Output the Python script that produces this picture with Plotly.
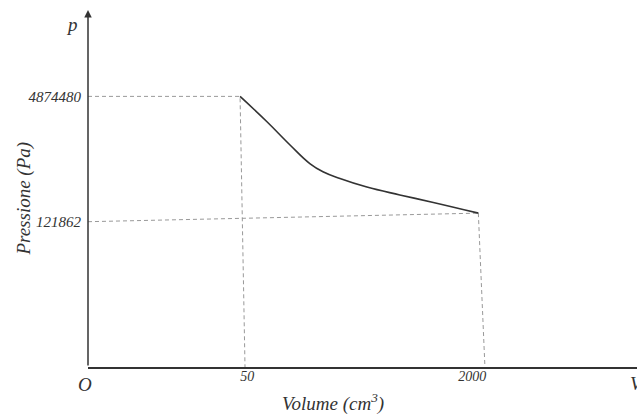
import plotly.graph_objects as go

# Schematic diagram coordinates (axis units 0..10 in both directions)
volume_ticks = ["50", "2000"]
volume_pos = [2.90, 7.00]
pressure_ticks = ["4874480", "121862"]
pressure_pos = [7.58, 4.07]

# Isothermal curve (schematic units)
curve_x = [2.77, 3.26, 3.68, 4.04, 4.28, 4.59, 5.08, 5.68, 6.29, 7.11]
curve_y = [7.58, 6.87, 6.22, 5.70, 5.47, 5.28, 5.04, 4.82, 4.61, 4.31]

# feet of the vertical guide lines on the volume axis
guide_foot_x = [2.86, 7.23]

serif = "Liberation Serif"
dash_col = "#999999"
ink = "#333333"
dash = "4px,3px"

fig = go.Figure()

# dashed guide lines
fig.add_trace(go.Scatter(x=[0, curve_x[0], guide_foot_x[0]], y=[curve_y[0], curve_y[0], 0],
                         mode="lines", line=dict(color=dash_col, width=1, dash=dash),
                         hoverinfo="skip", showlegend=False))
fig.add_trace(go.Scatter(x=[0, curve_x[-1]], y=[pressure_pos[1], curve_y[-1]],
                         mode="lines", line=dict(color=dash_col, width=1, dash=dash),
                         hoverinfo="skip", showlegend=False))
fig.add_trace(go.Scatter(x=[curve_x[-1], guide_foot_x[1]], y=[curve_y[-1], 0],
                         mode="lines", line=dict(color=dash_col, width=1, dash=dash),
                         hoverinfo="skip", showlegend=False))

# curve
fig.add_trace(go.Scatter(x=curve_x, y=curve_y, mode="lines",
                         line=dict(color=ink, width=1.6, shape="spline", smoothing=1.2),
                         showlegend=False))

fig.update_layout(
    width=637, height=415,
    margin=dict(l=88, r=0, t=10, b=48),
    plot_bgcolor="white", paper_bgcolor="white",
    showlegend=False,
    xaxis=dict(range=[0, 10], showgrid=False, zeroline=False, showline=True, linecolor=ink, linewidth=1.5,
               tickvals=volume_pos, ticktext=volume_ticks, ticks="", ticklabelstandoff=-5,
               tickfont=dict(family=serif, size=14, color=ink, style="italic")),
    yaxis=dict(range=[0, 10], showgrid=False, zeroline=False, showline=False,
               tickvals=pressure_pos, ticktext=pressure_ticks, ticks="", ticklabelstandoff=6,
               tickfont=dict(family=serif, size=15, color=ink, style="italic")),
)

# y axis with arrow
fig.add_annotation(x=0, y=1, xref="x domain", yref="y domain", ax=0, ay=357, axref="pixel", ayref="pixel",
                   showarrow=True, arrowhead=2, arrowsize=1, arrowwidth=1.5, arrowcolor=ink, text="")

fig.add_annotation(x=-0.029, y=0.958, xref="paper", yref="paper", text="p", showarrow=False,
                   font=dict(family=serif, size=19, color=ink, style="italic"), xanchor="center", yanchor="middle")
fig.add_annotation(x=-0.005, y=-0.05, xref="paper", yref="paper", text="O", showarrow=False,
                   font=dict(family=serif, size=19, color=ink, style="italic"), xanchor="center", yanchor="middle")
fig.add_annotation(x=1.0, y=-0.045, xref="paper", yref="paper", text="V", showarrow=False,
                   font=dict(family=serif, size=19, color=ink, style="italic"), xanchor="center", yanchor="middle")
fig.add_annotation(x=0.446, y=-0.1, xref="paper", yref="paper", text="Volume (cm<sup>3</sup>)", showarrow=False,
                   font=dict(family=serif, size=19, color=ink, style="italic"), xanchor="center", yanchor="middle")
fig.add_annotation(x=-0.117, y=0.471, xref="paper", yref="paper", text="Pressione (Pa)", showarrow=False,
                   textangle=-90, font=dict(family=serif, size=19, color=ink, style="italic"),
                   xanchor="center", yanchor="middle")

fig.write_html("out.html", config={"displayModeBar": False},
               post_script="document.body.style.margin='0px';")
